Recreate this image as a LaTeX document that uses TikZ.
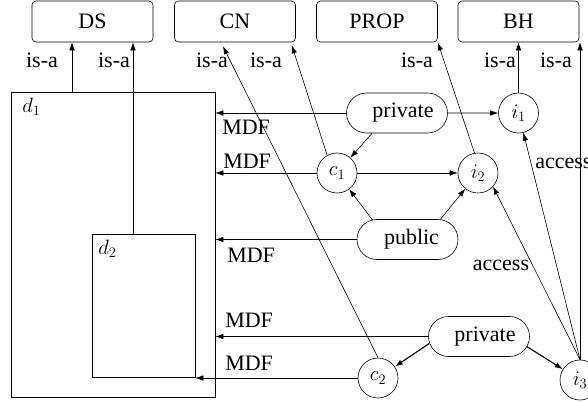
\documentclass[tikz,border=0pt]{standalone}
\usepackage[no-math]{fontspec}
\setmainfont{Liberation Serif}
\usetikzlibrary{arrows.meta,shapes.misc,calc}
\newcommand{\shiftedtxt}[2]{\rlap{\hspace{#1}#2}\phantom{#2}}
\begin{document}
\begin{tikzpicture}[x=1pt,y=-1pt,
  every node/.style={font=\fontsize{22}{26}\selectfont},
  line width=0.6pt,
  topbox/.style={draw,rounded corners=4pt,minimum width=121pt,minimum height=41pt,inner sep=0},
  circ/.style={draw,circle,minimum size=40pt,inner sep=0},
  pill/.style={draw,rounded rectangle,minimum width=101pt,minimum height=40pt,inner sep=0},
  area/.style={draw,rectangle,inner sep=0},
  lbl/.style={anchor=base,inner sep=0},
  lblw/.style={anchor=base west,inner sep=0},
  arr/.style={-{Latex[length=8pt,width=5.5pt]}},
  thickarr/.style={arr,line width=1.1pt}]
\useasboundingbox (0,0) rectangle (588,402);

% top boxes
\node[topbox] (DS) at (92.5,21.5) {DS};
\node[topbox] (CN) at (235,21.5) {CN};
\node[topbox] (PROP) at (377,21.5) {PROP};
\node[topbox] (BH) at (518.5,21.5) {BH};

% areas
\node[area,minimum width=204pt,minimum height=305pt] (d1) at (113,244.5) {};
\node[area,minimum width=103pt,minimum height=143pt] (d2) at (143.5,305.5) {};
\node[lblw] (d1l) at (22,112) {$d_1$};
\node[lblw] (d2l) at (98,254) {$d_2$};

% nodes
\node[pill] (pv1) at (397,113) {\shiftedtxt{6pt}{private}};
\node[circ] (i1) at (518.5,113) {$i_1$};
\node[circ] (c1) at (337,173) {$c_1$};
\node[circ] (i2) at (478,173) {$i_2$};
\node[pill] (pub) at (407.5,239.5) {\shiftedtxt{4pt}{public}};
\node[pill] (pv2) at (479,336.5) {\shiftedtxt{6pt}{private}};
\node[circ] (c2) at (378,378) {$c_2$};
\node[circ] (i3) at (580,380) {$i_3$};

% helper coordinates
\coordinate (xa) at (72,0);
\coordinate (xb) at (133,0);
\coordinate (cnA) at ($(CN.south)+(-12,4)$);
\coordinate (cnB) at ($(CN.south east)+(-4,3)$);

% is-a arrows
\draw[arr] (d1.north -| xa) -- (DS.south -| xa);
\draw[arr] (d2.north -| xb) -- (DS.south -| xb);
\draw[arr] (c2.north) -- (cnA);
\draw[arr] (c1.119) -- (cnB);
\draw[arr] (i2.100) -- (PROP.south east);
\draw[arr] (i1) -- (BH);
\draw[arr] (i3.north) -- (i3.north |- BH.south);

\node[lbl] (isa1) at (42,67) {is-a};
\node[lbl] (isa2) at (114,67) {is-a};
\node[lbl] (isa3) at (212,67) {is-a};
\node[lbl] (isa4) at (266,67) {is-a};
\node[lbl] (isa5) at (417,67) {is-a};
\node[lbl] (isa6) at (500,67) {is-a};
\node[lbl] (isa7) at (556,67) {is-a};

% MDF arrows
\draw[arr] (pv1.west) -- (pv1.west -| d1.east);
\draw[arr] (c1.west) -- (c1.west -| d1.east);
\draw[arr] (pub.west) -- (pub.west -| d1.east);
\draw[arr] (pv2.west) -- (pv2.west -| d1.east);
\draw[arr] (c2.west) -- (c2.west -| d2.east);
\node[lblw] (mdf1) at (222,134) {MDF};
\node[lblw] (mdf2) at (223,168) {MDF};
\node[lblw] (mdf3) at (227,262) {MDF};
\node[lblw] (mdf4) at (225,327) {MDF};
\node[lblw] (mdf5) at (225,370) {MDF};

% inner arrows
\draw[arr] (pv1) -- (i1);
\draw[arr] ($(pv1.south)+(-25,0)$) -- (c1);
\draw[arr] (c1) -- (i2);
\draw[arr] ($(pub.north)+(-35,0.8)$) -- (c1);
\draw[arr] ($(pub.north)+(33,0)$) -- (i2);
\draw[thickarr] ($(pv2.west)+(1,7)$) -- (c2);
\draw[thickarr] ($(pv2.east)+(-3,10)$) -- (i3);

% access
\draw[arr] (i3.north) -- (i1);
\draw[arr] (i3.north) -- (i2.-42);
\node[lblw] (acc1) at (535,168) {access};
\node[lbl] (acc2) at (501,270) {access};
\end{tikzpicture}
\end{document}
